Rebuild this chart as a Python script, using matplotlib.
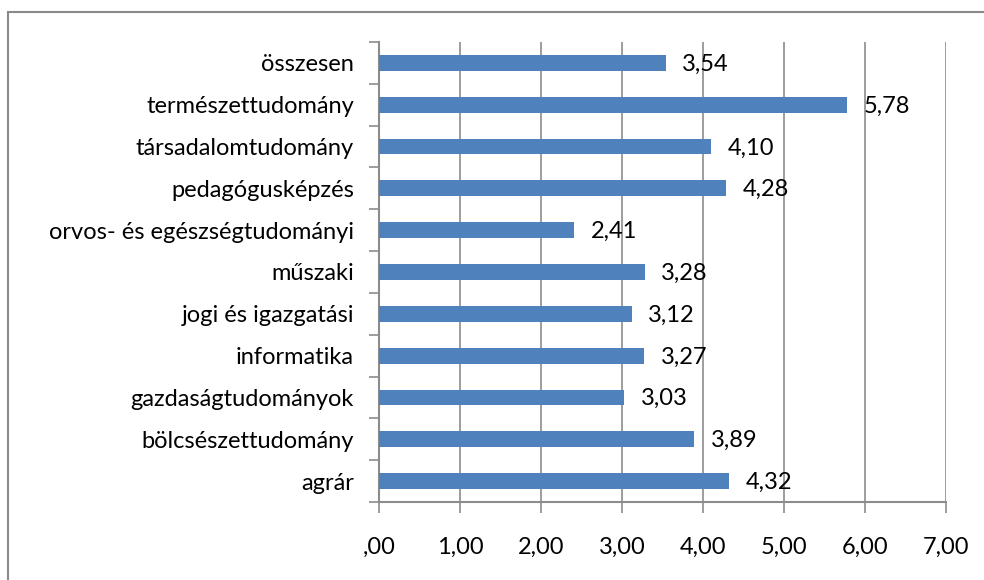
import numpy as np
import matplotlib
matplotlib.use("Agg")
import matplotlib.pyplot as plt
import matplotlib.patches as mpt
from matplotlib.ticker import FixedLocator, FuncFormatter

# data, bottom to top as in the chart
categories = [
    "agrár",
    "bölcsészettudomány",
    "gazdaságtudományok",
    "informatika",
    "jogi és igazgatási",
    "műszaki",
    "orvos- és egészségtudományi",
    "pedagógusképzés",
    "társadalomtudomány",
    "természettudomány",
    "összesen",
]
values = [4.32, 3.89, 3.03, 3.27, 3.12, 3.28, 2.41, 4.28, 4.10, 5.78, 3.54]
x_ticks = [0, 1, 2, 3, 4, 5, 6, 7]

BAR_COLOR = "#4F81BD"
GRID_COLOR = "#8C8C8C"
FONT = ["Lato", "DejaVu Sans"]
FS = 17

plt.rcParams["font.family"] = FONT

W, H = 984, 580
fig = plt.figure(figsize=(W / 100, H / 100), dpi=100)

# plot area in pixels: x 379..946, y 42..502
left, right, top, bottom = 379, 946, 42, 502
ax = fig.add_axes([left / W, 1 - bottom / H, (right - left) / W, (bottom - top) / H])

y = np.arange(len(categories))
ax.barh(y, values, height=0.38, color=BAR_COLOR, zorder=3)

ax.set_xlim(0, 7)
ax.set_ylim(-0.5, len(categories) - 0.5)


def fmt(v, pos=None):
    s = f"{v:.2f}".replace(".", ",")
    if s.startswith("0,"):
        s = s[1:]
    return s


ax.xaxis.set_major_locator(FixedLocator(x_ticks))
ax.xaxis.set_major_formatter(FuncFormatter(fmt))
ax.tick_params(axis="x", length=8, width=1.2, color=GRID_COLOR, pad=17, labelsize=FS)

ax.set_yticks(y)
ax.set_yticklabels(categories)
ax.yaxis.set_minor_locator(FixedLocator(np.arange(-0.5, len(categories), 1.0)))
ax.tick_params(axis="y", which="major", length=0, pad=18, labelsize=FS)
ax.tick_params(axis="y", which="minor", length=7, width=1.2, color=GRID_COLOR)

ax.grid(axis="x", color=GRID_COLOR, linewidth=1.2, zorder=0)
for side in ["top", "right"]:
    ax.spines[side].set_visible(False)
for side in ["left", "bottom"]:
    ax.spines[side].set_color(GRID_COLOR)
    ax.spines[side].set_linewidth(1.5)

for yi, v in zip(y, values):
    ax.annotate(fmt(v), (v, yi), xytext=(12, -1), textcoords="offset points",
                va="center", ha="left", fontsize=FS, zorder=4)

# outer chart border (right and bottom edges fall outside the image)
fig.patches.append(mpt.Rectangle((7.5 / W, -0.1), 1.2, 1 - 12 / H + 0.1,
                                 transform=fig.transFigure, fill=False,
                                 edgecolor="#8A8A8A", linewidth=1.5))

fig.savefig("out.png", dpi=100)
